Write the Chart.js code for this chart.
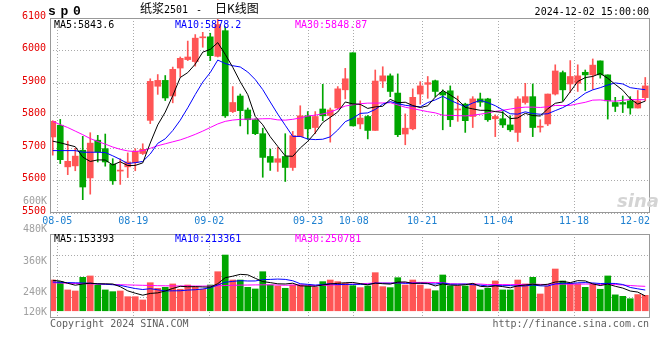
<!DOCTYPE html>
<html>
<head>
<meta charset="utf-8">
<script src="https://cdn.jsdelivr.net/npm/chart.js@4.4.1/dist/chart.umd.min.js"></script>
<style>
html, body { margin: 0; padding: 0; background: #fff; }
#wrap { position: relative; width: 660px; height: 360px; overflow: hidden; font-family: 'DejaVu Sans Mono', monospace; font-size: 10px; }
#wrap canvas { position: absolute; left: 0; top: 0; }
.t { position: absolute; white-space: nowrap; line-height: 10px; z-index: 5; }
.cjk { font-family: 'Noto Sans CJK SC', sans-serif; font-size: 12px; line-height: 12px; }
.g { color: #a0a0a0; }
</style>
</head>
<body>
<div id="wrap">
  <canvas id="vol" width="660" height="360"></canvas>
  <canvas id="kline" width="660" height="360"></canvas>

  <div class="t" style="left:48px;top:4.6px;font:bold 13px 'Liberation Mono',monospace;line-height:13px;letter-spacing:4.7px">sp0</div>
  <div class="t cjk" style="left:140px;top:1.6px">纸浆<span style="font:10px 'DejaVu Sans Mono',monospace">2501</span></div>
  <div class="t" style="left:196px;top:4.5px">-</div>
  <div class="t cjk" style="left:215px;top:1.6px">日K线图</div>
  <div class="t" style="right:11px;top:7.4px">2024-12-02 15:00:00</div>

  <div class="t" id="lgMa5" style="left:54px;top:19.5px;color:#000"></div>
  <div class="t" id="lgMa10" style="left:175px;top:19.5px;color:#0000ff"></div>
  <div class="t" id="lgMa30" style="left:295px;top:19.5px;color:#ff00ff"></div>

  <div class="t" id="lgV5" style="left:54px;top:233.5px;color:#000"></div>
  <div class="t" id="lgV10" style="left:175px;top:233.5px;color:#0000ff"></div>
  <div class="t" id="lgV30" style="left:295px;top:233.5px;color:#ff00ff"></div>

  <div class="t g" style="right:613px;top:196.2px">600K</div>
  <div class="t g" style="right:613px;top:223.9px">480K</div>
  <div class="t g" style="right:613px;top:255.5px">360K</div>
  <div class="t g" style="right:613px;top:287.2px">240K</div>
  <div class="t g" style="right:613px;top:306.5px">120K</div>

  <div class="t" style="left:617px;top:192px;font:italic bold 18px 'DejaVu Sans',sans-serif;line-height:18px;color:#d4d4d4">sina</div>

  <div class="t" style="left:50px;top:319px;color:#606060">Copyright 2024 SINA.COM</div>
  <div class="t" style="right:11px;top:319px;color:#606060">http://finance.sina.com.cn</div>
</div>

<script>
// daily candles, 08-02 .. 12-02
var opens = [5734,5770,5642,5645,5693,5608,5724,5698,5650,5629,5642,5655,5683,5785,5890,5908,5860,5946,5972,5966,
  6039,6042,5982,6061,5812,5860,5817,5787,5744,5674,5656,5674,5640,5735,5799,5763,5820,5800,5823,5879,
  5993,5774,5797,5754,5906,5922,5869,5743,5759,5866,5896,5907,5871,5876,5817,5835,5797,5851,5851,5790,
  5790,5771,5748,5840,5858,5764,5774,5866,5932,5897,5899,5933,5925,5968,5925,5840,5840,5845,5823,5855];
var highs = [5784,5788,5721,5699,5736,5747,5739,5743,5667,5667,5685,5698,5713,5913,5926,5923,5949,5980,6029,6049,
  6056,6053,6098,6073,5889,5866,5823,5790,5761,5697,5702,5744,5751,5830,5812,5812,5896,5823,5889,5945,
  5993,5845,5800,5940,5950,5928,5928,5805,5882,5904,5920,5909,5879,5891,5860,5838,5858,5869,5853,5802,
  5812,5799,5858,5899,5897,5787,5866,5956,5937,5969,5956,5940,5974,5968,5925,5856,5860,5858,5877,5917];
var lows = [5678,5652,5618,5630,5541,5558,5657,5644,5588,5588,5609,5630,5680,5775,5865,5846,5839,5918,5969,5952,
  6010,5969,5980,5794,5809,5768,5743,5741,5610,5631,5628,5597,5631,5735,5727,5744,5784,5718,5820,5851,
  5768,5759,5728,5754,5886,5858,5735,5710,5756,5835,5853,5858,5756,5766,5782,5748,5763,5828,5782,5735,
  5763,5751,5720,5835,5735,5749,5769,5863,5845,5871,5874,5877,5881,5915,5789,5812,5809,5804,5823,5845];
var closes = [5782,5664,5659,5675,5580,5715,5688,5657,5599,5629,5657,5690,5696,5905,5908,5854,5942,5976,5980,6038,
  6039,5984,6080,5799,5840,5815,5787,5744,5671,5656,5667,5640,5738,5799,5759,5797,5799,5817,5882,5913,
  5768,5792,5754,5906,5922,5874,5741,5761,5856,5891,5901,5874,5863,5787,5817,5784,5851,5841,5787,5797,
  5771,5756,5851,5858,5763,5764,5866,5937,5879,5920,5922,5925,5955,5925,5845,5828,5835,5823,5845,5891];

// volume in thousands
var volumes = [319,302,216,205,347,361,267,216,198,205,146,146,112,291,233,243,278,223,267,243,
  223,267,405,578,319,319,243,226,405,267,257,233,267,267,257,243,302,319,302,285,
  260,240,257,395,250,240,343,267,319,267,226,208,371,257,257,257,278,216,233,309,
  216,216,319,278,347,174,257,433,309,285,278,243,278,223,361,165,150,125,168,160];

var ma5 = [5721,5716,5710,5704,5672,5658.6,5663.4,5663,5647.8,5657.6,5646,5646.4,5654.2,5715.4,5771.2,5810.6,5861,5917,5932,5958,
  5995,6003.4,6024.2,5988,5948.4,5903.6,5864.2,5797,5771.4,5734.6,5705,5675.6,5674.4,5700,5720.6,5746.6,5778.4,5794.2,5810.8,5841.6,
  5835.8,5834.4,5821.8,5826.6,5828.4,5849.6,5839.4,5840.8,5830.8,5824.6,5830,5856.6,5877,5863.2,5848.4,5825,5820.4,5816,5816,5812,
  5809.4,5790.4,5792.4,5806.6,5799.8,5798.4,5820.4,5837.6,5841.8,5873.2,5904.8,5916.6,5920.2,5929.4,5914.4,5895.6,5877.6,5851.2,5835.2,5844.4];
var ma10 = [5692,5692,5692,5692,5687,5687,5687,5686,5676,5664.8,5652.3,5654.9,5658.6,5681.6,5714.4,5728.3,5753.7,5785.6,5823.7,5864.6,
  5902.8,5932.2,5970.6,5960,5953.2,5949.3,5933.8,5910.6,5879.7,5841.5,5804.3,5769.9,5735.7,5735.7,5727.6,5725.8,5727,5734.3,5755.4,5781.1,
  5791.2,5806.4,5808,5818.7,5835,5842.7,5836.9,5831.3,5828.7,5826.5,5839.8,5848,5858.9,5847,5836.5,5827.5,5838.5,5846.5,5839.6,5830.2,
  5817.2,5805.4,5804.2,5811.3,5805.9,5803.9,5805.4,5815,5824.2,5836.5,5851.6,5868.5,5878.9,5885.6,5893.8,5900.2,5897.1,5885.7,5882.3,5879.4];
var ma30 = [5782,5772,5763,5752,5741,5729,5720,5712,5703,5696,5691,5689,5692,5699,5707,5713,5719,5725,5733,5742,
  5752,5763,5774,5782,5786,5788,5789,5789,5790,5790.3,5786.5,5785.7,5788.3,5792.4,5798.4,5801.1,5804.8,5810.2,5819.6,5829.1,
  5832.8,5836.2,5838.1,5838.1,5838.6,5839.3,5832.6,5825.4,5821.3,5816.4,5811.8,5808.1,5800.9,5800.5,5799.7,5798.7,5800.8,5804,5807.9,5812.6,
  5816.1,5819.9,5823.7,5825.7,5825.8,5824.7,5826.9,5830.9,5830.8,5831.1,5836.2,5840.6,5847.3,5848,5845.4,5843.9,5847,5849.1,5848.7,5848.7];

var volMa5 = [316,308,285,265,277.8,286.2,279.2,279.2,277.8,249.4,206.4,182.2,161.4,180,185.6,205,231.4,253.6,248.8,250.8,
  246.8,244.6,281,343.2,358.4,377.6,372.8,337,302.4,292,279.6,277.6,285.8,258.2,256.2,253.4,267.2,277.6,284.6,290.2,
  293.6,281.2,268.8,287.4,280.4,276.4,297,299,283.8,287.2,284.4,257.4,278.2,265.8,263.8,270,284,253,248.2,258.6,
  250.4,238,258.6,267.6,275.2,266.8,275,297.8,304,291.6,312.4,309.6,278.6,261.4,276.6,254,235.4,204.8,193.8,153.6];
var volMa10 = [298,295,292,290,288,285,280,275,270,263.6,246.3,230.7,220.3,228.9,217.5,205.7,206.8,207.5,214.4,218.2,
  225.9,238,267.3,296,304.6,312.2,308.7,309,322.8,325.2,328.6,325.2,311.4,280.3,274.1,266.5,272.4,281.7,271.4,273.2,
  273.5,274.2,273.2,286,285.3,285,289.1,283.9,285.6,283.8,280.4,277.2,288.6,274.8,275.5,277.2,270.7,265.6,257,261.2,
  260.2,261,255.8,257.9,266.9,258.6,256.5,278.2,285.8,283.4,289.6,292.3,288.2,282.7,284.1,283.2,272.5,241.7,227.6,215.1];
var volMa30 = [290,288,285,283,281,279,277,275,272,270,268,266,264,262,260,259,258,257,257,256,
  256,257,258,262,264,266,267,268,269,269,266.9,264.6,266.3,268.4,265.4,261.5,262.6,266.1,269.5,272.2,
  276,279.1,284,287.4,288,287.9,290.1,291.5,293.3,294.1,294.2,292.2,291.1,280.4,278.3,276.2,277.4,277.1,271.3,272.7,
  271.4,270.8,272.5,272.9,275.9,273.6,272.1,275.9,276.1,276.1,276.7,276.8,277.5,271.8,275.5,273,266.6,261.8,256.8,253.2];

var dateLabels = ['08-05','08-19','09-02','09-23','10-08','10-21','11-04','11-18','12-02'];
var dateTickAt = [0.61, 10.74, 20.87, 34.05, 40.13, 49.25, 59.39, 69.51, 77.63];

var legendText = {
  lgMa5: 'MA5:5843.6', lgMa10: 'MA10:5878.2', lgMa30: 'MA30:5848.87',
  lgV5: 'MA5:153393', lgV10: 'MA10:213361', lgV30: 'MA30:250781'
};
for (var k in legendText) document.getElementById(k).textContent = legendText[k];

Chart.defaults.font.family = "'DejaVu Sans Mono', monospace";
Chart.defaults.font.size = 10;

var RED = '#ff5555', GREEN = '#00a600';
var colors = closes.map(function(c, i) { return c >= opens[i] ? RED : GREEN; });

function pts(arr) { return arr.map(function(v, i) { return {x: i, y: v}; }); }

var frame = {
  id: 'frame',
  afterDraw: function(chart) {
    var a = chart.chartArea, ctx = chart.ctx;
    ctx.save();
    ctx.strokeStyle = '#999';
    ctx.lineWidth = 1;
    ctx.strokeRect(a.left + 0.5, a.top + 0.5, a.right - a.left - 1, a.bottom - a.top - 1);
    ctx.restore();
  }
};

function xAxis(showLabels) {
  return {
    type: 'linear', bounds: 'data', min: -0.3667, max: 79.633, offset: false,
    afterBuildTicks: function(s) { s.ticks = dateTickAt.map(function(v) { return {value: v}; }); },
    afterFit: function(s) { s.height = showLabels ? 20 : 0; },
    grid: {
      offset: false, drawTicks: false,
      color: function(c) { return c.index === dateTickAt.length - 1 ? 'rgba(0,0,0,0)' : '#aaaaaa'; }
    },
    border: { display: false, dash: [1, 2] },
    ticks: {
      display: showLabels, autoSkip: false, maxRotation: 0, padding: 2.5, color: '#1e80d0',
      callback: function(v, i) { return dateLabels[i]; }
    }
  };
}

function line(data, color) {
  return { type: 'line', data: pts(data), borderColor: color, borderWidth: 1, pointRadius: 0, tension: 0, fill: false };
}

new Chart(document.getElementById('kline'), {
  type: 'bar',
  data: {
    datasets: [
      line(ma5, '#000000'),
      line(ma10, '#0000ff'),
      line(ma30, '#ff00ff'),
      {
        data: opens.map(function(o, i) { return {x: i, y: [Math.min(o, closes[i]), Math.max(o, closes[i])]}; }),
        backgroundColor: colors, barThickness: 6, minBarLength: 1, grouped: false
      },
      {
        data: opens.map(function(o, i) { return {x: i, y: [lows[i], highs[i]]}; }),
        backgroundColor: colors, barThickness: 1, minBarLength: 1, grouped: false
      }
    ]
  },
  options: {
    responsive: false, animation: false,
    layout: { padding: { top: 18, right: 10, bottom: 127, left: 0 } },
    plugins: { legend: { display: false }, tooltip: { enabled: false } },
    scales: {
      x: xAxis(true),
      y: {
        type: 'linear', bounds: 'data', min: 5500, max: 6100,
        afterFit: function(s) { s.width = 50; },
        grid: { drawTicks: false, color: '#aaaaaa' },
        border: { display: false, dash: [1, 2] },
        ticks: {
          stepSize: 100, color: '#e60000', padding: 4, labelOffset: -2,
          callback: function(v) { return String(v); }
        }
      }
    }
  },
  plugins: [frame]
});

new Chart(document.getElementById('vol'), {
  type: 'bar',
  data: {
    datasets: [
      line(volMa5, '#000000'),
      line(volMa10, '#0000ff'),
      line(volMa30, '#ff00ff'),
      { data: pts(volumes), backgroundColor: colors, barThickness: 6, grouped: false }
    ]
  },
  options: {
    responsive: false, animation: false,
    layout: { padding: { top: 234, right: 10, bottom: 42, left: 0 } },
    plugins: { legend: { display: false }, tooltip: { enabled: false } },
    scales: {
      x: xAxis(false),
      y: {
        type: 'linear', bounds: 'data', min: -75, max: 796,
        afterFit: function(s) { s.width = 50; },
        afterBuildTicks: function(s) {
          s.ticks = [1, 2, 3].map(function(k) { return {value: s.min + k * (s.max - s.min) / 4}; });
        },
        grid: { drawTicks: false, color: '#aaaaaa' },
        border: { display: false, dash: [1, 2] },
        ticks: { display: false }
      }
    }
  },
  plugins: [frame]
});
</script>
</body>
</html>
